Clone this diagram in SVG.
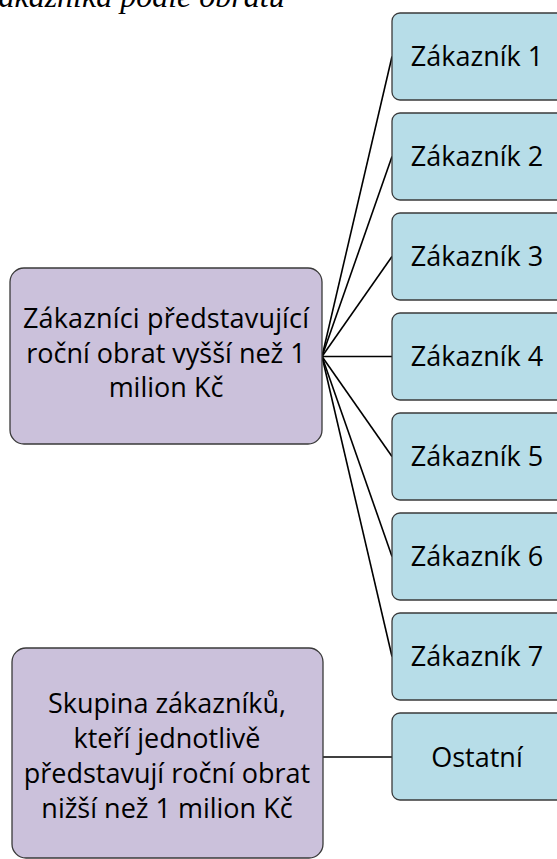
<svg xmlns="http://www.w3.org/2000/svg" width="557" height="859" viewBox="0 0 557 859">
<style>
.t{font-family:"Open Sans",Lato,"Liberation Sans",sans-serif;font-size:27px;fill:#000;text-anchor:middle}
.p{fill:#CBC1DB;stroke:#3a3a3a;stroke-width:1.3}
.b{fill:#B7DDE8;stroke:#3a3a3a;stroke-width:1.3}
.c{stroke:#000;stroke-width:1.6;fill:none}
</style>
<rect width="557" height="859" fill="#fff"/>
<text x="-14" y="7" font-family="'Liberation Serif',serif" font-style="italic" font-size="32" fill="#000">zákazníka podle obratu</text>
<g id="connectors">
<line class="c" x1="322" y1="356.5" x2="392" y2="56.5"/>
<line class="c" x1="322" y1="356.5" x2="392" y2="156.5"/>
<line class="c" x1="322" y1="356.5" x2="392" y2="256.5"/>
<line class="c" x1="322" y1="356.5" x2="392" y2="356.5"/>
<line class="c" x1="322" y1="356.5" x2="392" y2="456.5"/>
<line class="c" x1="322" y1="356.5" x2="392" y2="556.5"/>
<line class="c" x1="322" y1="356.5" x2="392" y2="656.5"/>
<line class="c" x1="323" y1="757" x2="392" y2="757"/>
</g>
<g id="big">
<rect class="p" x="10" y="268" width="312" height="176" rx="14"/>
<text class="t" x="166" y="328" textLength="286" lengthAdjust="spacing">Zákazníci představující</text>
<text class="t" x="166" y="363">roční obrat vyšší než 1</text>
<text class="t" x="166" y="397">milion Kč</text>
</g>
<g id="small">
<rect class="p" x="12" y="648" width="311" height="210" rx="14"/>
<text class="t" x="167" y="713">Skupina zákazníků,</text>
<text class="t" x="167" y="748">kteří jednotlivě</text>
<text class="t" x="167" y="783">představují roční obrat</text>
<text class="t" x="167" y="818">nižší než 1 milion Kč</text>
</g>
<g id="z1"><rect class="b" x="392" y="13" width="180" height="87" rx="8"/><text class="t" x="477" y="66">Zákazník 1</text></g>
<g id="z2"><rect class="b" x="392" y="113" width="180" height="87" rx="8"/><text class="t" x="477" y="166">Zákazník 2</text></g>
<g id="z3"><rect class="b" x="392" y="213" width="180" height="87" rx="8"/><text class="t" x="477" y="266">Zákazník 3</text></g>
<g id="z4"><rect class="b" x="392" y="313" width="180" height="87" rx="8"/><text class="t" x="477" y="366">Zákazník 4</text></g>
<g id="z5"><rect class="b" x="392" y="413" width="180" height="87" rx="8"/><text class="t" x="477" y="466">Zákazník 5</text></g>
<g id="z6"><rect class="b" x="392" y="513" width="180" height="87" rx="8"/><text class="t" x="477" y="566">Zákazník 6</text></g>
<g id="z7"><rect class="b" x="392" y="613" width="180" height="87" rx="8"/><text class="t" x="477" y="666">Zákazník 7</text></g>
<g id="ostatni"><rect class="b" x="392" y="713" width="180" height="87" rx="8"/><text class="t" x="477" y="767">Ostatní</text></g>
</svg>
